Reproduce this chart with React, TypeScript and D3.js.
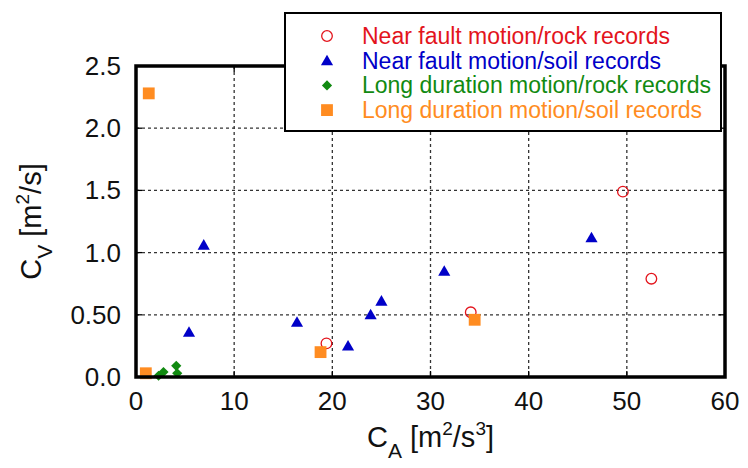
import React from "react";
import * as d3 from "d3";

type Pt = [number, number];

// Near fault motion / rock records
const nearRock: Pt[] = [
  [19.4, 0.27],
  [34.1, 0.52],
  [49.6, 1.49],
  [52.5, 0.79],
];
// Near fault motion / soil records
const nearSoil: Pt[] = [
  [5.4, 0.36],
  [6.9, 1.06],
  [16.4, 0.44],
  [21.6, 0.25],
  [23.9, 0.5],
  [25.0, 0.61],
  [31.4, 0.85],
  [46.4, 1.12],
];
// Long duration motion / rock records
const longRock: Pt[] = [
  [2.3, 0.01],
  [2.8, 0.04],
  [4.1, 0.09],
  [4.2, 0.03],
];
// Long duration motion / soil records
const longSoil: Pt[] = [
  [1.3, 2.28],
  [1.0, 0.03],
  [18.8, 0.2],
  [34.5, 0.46],
];

const xTicks = [0, 10, 20, 30, 40, 50, 60];
const yTicks = [0, 0.5, 1.0, 1.5, 2.0, 2.5];
const yTickLabels = ["0.0", "0.50", "1.0", "1.5", "2.0", "2.5"];
const legendLabels = [
  "Near fault motion/rock records",
  "Near fault motion/soil records",
  "Long duration motion/rock records",
  "Long duration motion/soil records",
];

const RED = "#e3141c";
const BLUE = "#0000c8";
const GREEN = "#118a11";
const ORANGE = "#ff8c21";
const colors = [RED, BLUE, GREEN, ORANGE];

const W = 748;
const H = 468;
const m = { left: 136, right: 725, top: 66, bottom: 377 };
const font = "Arial, 'Liberation Sans', Helvetica, sans-serif";

const triPath = d3.symbol(d3.symbolTriangle, 64)()!;
const sqPath = d3.symbol(d3.symbolSquare, 140)()!;
const diaPath = d3.symbol(d3.symbolSquare, 52)()!;

function Marker({ kind, x, y }: { kind: number; x: number; y: number }) {
  if (kind === 0)
    return <circle cx={x} cy={y} r={5.3} fill="none" stroke={RED} strokeWidth={1.3} />;
  if (kind === 1)
    return <path d={triPath} transform={`translate(${x},${y + 1})`} fill={BLUE} />;
  if (kind === 2)
    return <path d={diaPath} transform={`translate(${x},${y}) rotate(45)`} fill={GREEN} />;
  return <path d={sqPath} transform={`translate(${x},${y})`} fill={ORANGE} />;
}

export default function App() {
  const x = d3.scaleLinear().domain([0, 60]).range([m.left, m.right]);
  const y = d3.scaleLinear().domain([0, 2.5]).range([m.bottom, m.top]);
  const series = [nearRock, nearSoil, longRock, longSoil];

  return (
    <svg
      width={W}
      height={H}
      style={{ position: "absolute", left: 0, top: 0, background: "#fff" }}
      fontFamily={font}
    >
      {/* grid */}
      <g stroke="#333" strokeWidth={1.3} strokeDasharray="3,3">
        {xTicks.slice(1, -1).map((t) => (
          <line key={"gx" + t} x1={x(t)} x2={x(t)} y1={m.top} y2={m.bottom} />
        ))}
        {yTicks.slice(1, -1).map((t) => (
          <line key={"gy" + t} x1={m.left} x2={m.right} y1={y(t)} y2={y(t)} />
        ))}
      </g>
      {/* inner ticks */}
      <g stroke="#000" strokeWidth={1.3}>
        {xTicks.slice(1, -1).map((t) => (
          <g key={"tx" + t}>
            <line x1={x(t)} x2={x(t)} y1={m.bottom} y2={m.bottom - 6} />
            <line x1={x(t)} x2={x(t)} y1={m.top} y2={m.top + 6} />
          </g>
        ))}
        {yTicks.slice(1, -1).map((t) => (
          <g key={"ty" + t}>
            <line x1={m.left} x2={m.left + 6} y1={y(t)} y2={y(t)} />
            <line x1={m.right} x2={m.right - 6} y1={y(t)} y2={y(t)} />
          </g>
        ))}
      </g>
      {/* data */}
      {series.map((s, k) =>
        s.map((d, i) => <Marker key={k + "-" + i} kind={k} x={x(d[0])} y={y(d[1])} />)
      )}
      {/* frame */}
      <rect
        x={m.left}
        y={m.top}
        width={m.right - m.left}
        height={m.bottom - m.top}
        fill="none"
        stroke="#000"
        strokeWidth={3.5}
      />
      {/* tick labels */}
      <g fontSize={26} fill="#111">
        {xTicks.map((t) => (
          <text key={"lx" + t} x={x(t)} y={m.bottom + 33} textAnchor="middle">
            {t}
          </text>
        ))}
        {yTicks.map((t, i) => (
          <text key={"ly" + t} x={m.left - 15} y={y(t) + 9} textAnchor="end">
            {yTickLabels[i]}
          </text>
        ))}
      </g>
      {/* axis titles */}
      <text x={(m.left + m.right) / 2} y={447} textAnchor="middle" fontSize={29} fill="#111">
        C<tspan fontSize={21} dy={11}>A</tspan>
        <tspan dy={-11}> [m</tspan>
        <tspan fontSize={19} dy={-12}>2</tspan>
        <tspan dy={12}>/s</tspan>
        <tspan fontSize={19} dy={-12}>3</tspan>
        <tspan dy={12}>]</tspan>
      </text>
      <text
        transform={`translate(41,${(m.top + m.bottom) / 2}) rotate(-90)`}
        textAnchor="middle"
        fontSize={29}
        fill="#111"
      >
        C<tspan fontSize={21} dy={11}>V</tspan>
        <tspan dy={-11}> [m</tspan>
        <tspan fontSize={19} dy={-12}>2</tspan>
        <tspan dy={12}>/s]</tspan>
      </text>
      {/* legend */}
      <rect x={285} y={13} width={436} height={118} fill="#fff" stroke="#000" strokeWidth={2} />
      {legendLabels.map((l, i) => {
        const cy = 36 + i * 24.7;
        return (
          <g key={l}>
            <Marker kind={i} x={327} y={cy} />
            <text x={362} y={cy + 8} fontSize={23} fill={colors[i]}>
              {l}
            </text>
          </g>
        );
      })}
    </svg>
  );
}
